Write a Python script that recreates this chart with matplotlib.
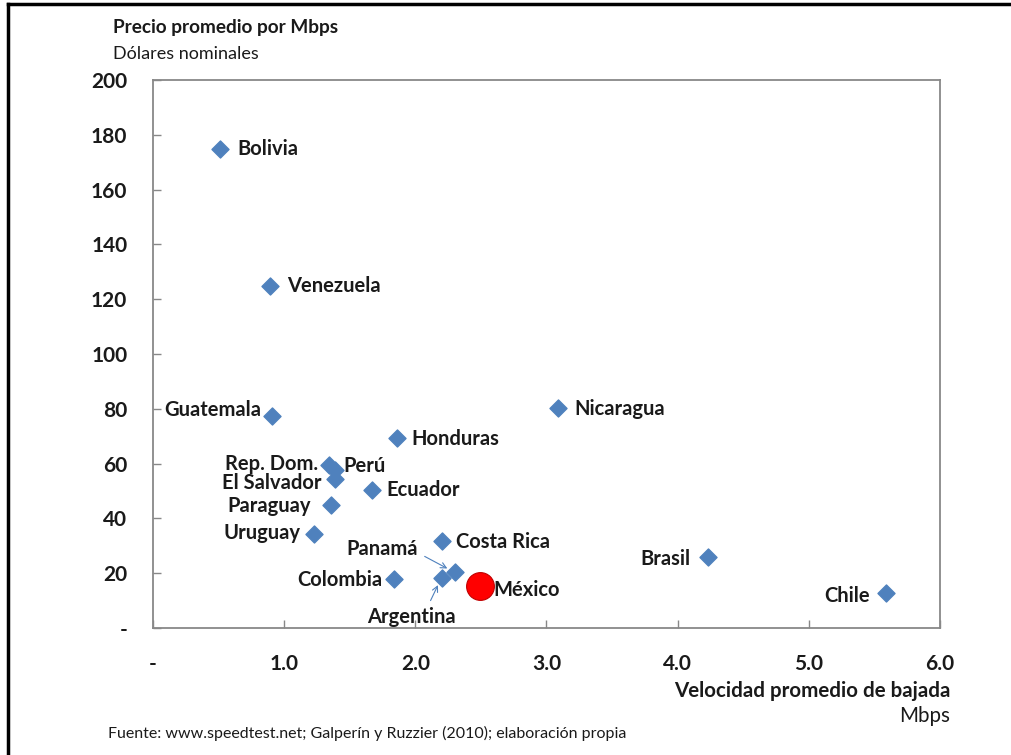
import numpy as np
import matplotlib
matplotlib.use("Agg")
import matplotlib.pyplot as plt
from matplotlib.lines import Line2D

plt.rcParams['font.family'] = ['Lato', 'DejaVu Sans']

# Velocidad promedio de bajada (Mbps) y precio promedio por Mbps (USD)
paises = ['Bolivia', 'Venezuela', 'Guatemala', 'Nicaragua', 'Honduras',
          'Rep. Dom.', 'Perú', 'El Salvador', 'Ecuador', 'Paraguay',
          'Uruguay', 'Costa Rica', 'Panamá', 'Argentina', 'Colombia',
          'Brasil', 'Chile']
velocidad = [0.51, 0.89, 0.91, 3.09, 1.86, 1.34, 1.39, 1.39, 1.67, 1.36,
             1.23, 2.20, 2.30, 2.20, 1.84, 4.23, 5.59]
precio = [175.0, 125.0, 77.5, 80.3, 69.2, 59.4, 57.8, 54.5, 50.2, 44.8,
          34.3, 31.6, 20.3, 18.4, 17.9, 26.0, 12.6]

mexico_vel = 2.49
mexico_precio = 15.3

xticks = [0, 1, 2, 3, 4, 5, 6]
xlabels = ['-', '1.0', '2.0', '3.0', '4.0', '5.0', '6.0']
yticks = [0, 20, 40, 60, 80, 100, 120, 140, 160, 180, 200]
ylabels = ['-'] + [str(v) for v in yticks[1:]]

# desplazamiento de etiquetas en pixeles (dx, dy, alineacion)
offsets = {
    'Bolivia': (18, 0, 'left'), 'Venezuela': (17, 0, 'left'),
    'Guatemala': (-11, 6, 'right'), 'Nicaragua': (16, -1, 'left'),
    'Honduras': (14, -1, 'left'), 'Rep. Dom.': (-11, 1, 'right'),
    'Perú': (8, 4, 'left'), 'El Salvador': (-14, -4, 'right'),
    'Ecuador': (14, 0, 'left'), 'Paraguay': (-20, -1, 'right'),
    'Uruguay': (-14, 1, 'right'), 'Costa Rica': (14, -1, 'left'),
    'Colombia': (-12, -1, 'right'), 'Brasil': (-17, -2, 'right'),
    'Chile': (-16, -3, 'right'),
}

fig = plt.figure(figsize=(10.11, 7.55), dpi=100)
ax = fig.add_axes([0.1513, 0.1682, 0.7785, 0.7258])

ax.scatter(velocidad, precio, marker='D', s=75, color='#4F81BD',
           edgecolors='#4F81BD', zorder=3)
ax.scatter([mexico_vel], [mexico_precio], marker='o', s=400, color='#FF0000',
           edgecolors='#C00000', linewidths=0.8, zorder=3)

lbl = dict(fontsize=14.5, fontweight='bold', color='#1a1a1a', va='center',
           textcoords='offset pixels')
for p, x, y in zip(paises, velocidad, precio):
    if p in offsets:
        dx, dy, ha = offsets[p]
        ax.annotate(p, (x, y), xytext=(dx, dy), ha=ha, **lbl)

ax.annotate('México', (mexico_vel, mexico_precio), xytext=(14, -4),
            ha='left', **lbl)

# Panamá y Argentina se señalan con flechas
i_pan = paises.index('Panamá')
i_arg = paises.index('Argentina')
pan = (velocidad[i_pan], precio[i_pan])
arg = (velocidad[i_arg], precio[i_arg])
ax.annotate('Panamá', pan, xytext=(-37, 23), ha='right', **lbl)
ax.annotate('Argentina', arg, xytext=(-30, -39), ha='center', **lbl)
arrow = dict(arrowstyle='->', color='#4F81BD', lw=0.8, shrinkA=0, shrinkB=6)
ax.annotate('', pan, xytext=(-30, 16), textcoords='offset pixels',
            arrowprops=arrow)
ax.annotate('', arg, xytext=(-11, -23), textcoords='offset pixels',
            arrowprops=arrow)

ax.set_xlim(0, 6)
ax.set_ylim(0, 200)
ax.set_xticks(xticks)
ax.set_xticklabels(xlabels)
ax.set_yticks(yticks)
ax.set_yticklabels(ylabels)
for t in ax.get_xticklabels() + ax.get_yticklabels():
    t.set_fontweight('bold')
    t.set_fontsize(15)
    t.set_color('#1a1a1a')
ax.tick_params(axis='both', direction='in', length=6, width=1,
               color='#888888')
ax.tick_params(axis='x', pad=19)
ax.tick_params(axis='y', pad=18.5)
for s in ax.spines.values():
    s.set_color('#888888')
    s.set_linewidth(1.3)

fig.text(0.1118, 1 - 28 / 755, 'Precio promedio por Mbps', fontsize=13.7,
         fontweight='bold', va='center', color='#1a1a1a')
fig.text(0.1118, 1 - 54 / 755, 'Dólares nominales', fontsize=13,
         va='center', color='#1a1a1a')
fig.text(950 / 1011, 1 - 691 / 755, 'Velocidad promedio de bajada',
         fontsize=14.8, fontweight='bold', ha='right', va='center',
         color='#1a1a1a')
fig.text(950 / 1011, 1 - 716 / 755, 'Mbps', fontsize=14.8, ha='right',
         va='center', color='#1a1a1a')
fig.text(108 / 1011, 1 - 733 / 755,
         'Fuente: www.speedtest.net; Galperín y Ruzzier (2010); elaboración propia',
         fontsize=11.5, va='center', color='#1a1a1a')

# marco negro superior e izquierdo
fig.add_artist(Line2D([8 / 1011, 1], [1 - 4 / 755, 1 - 4 / 755],
                      transform=fig.transFigure, color='black', lw=2.5))
fig.add_artist(Line2D([8 / 1011, 8 / 1011], [0, 1 - 4 / 755],
                      transform=fig.transFigure, color='black', lw=2.5))

fig.savefig('out.png', dpi=100)
